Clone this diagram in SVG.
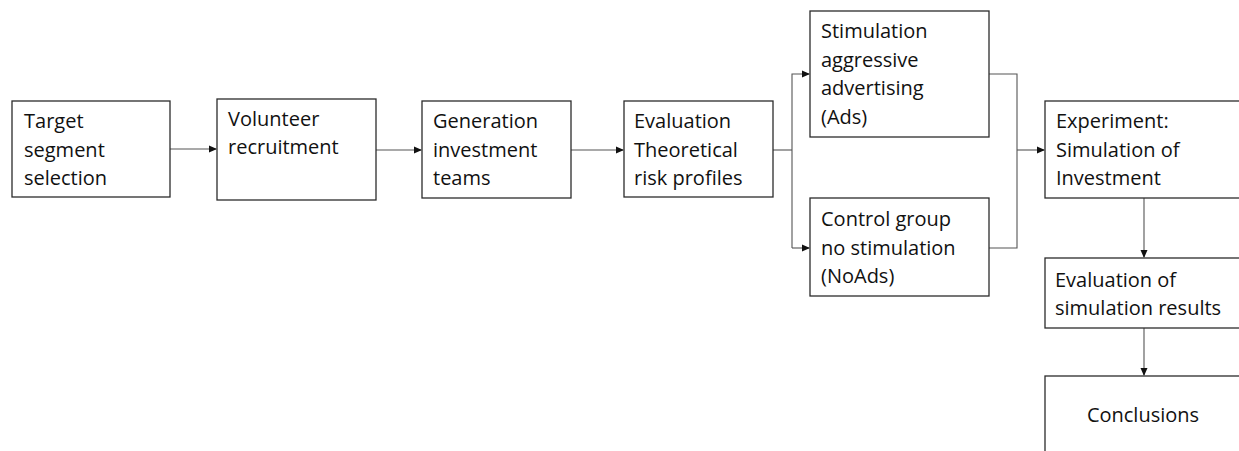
<svg xmlns="http://www.w3.org/2000/svg" width="1239" height="451" viewBox="0 0 1239 451">
<style>
.box{fill:#fff;stroke:#2b2b2b;stroke-width:1.3}
.t{font-family:"Open Sans",Lato,"Liberation Sans",sans-serif;font-size:20px;fill:#111}
.c{fill:none;stroke:#555;stroke-width:1.1}
</style>
<defs>
<marker id="ah" markerWidth="8" markerHeight="8" refX="7" refY="4" orient="auto" markerUnits="userSpaceOnUse">
<path d="M0,0.5 L8,4 L0,7.5 Z" fill="#111"/>
</marker>
</defs>
<rect width="1239" height="451" fill="#fff"/>
<g id="connectors">
<path class="c" d="M170,149 H216" marker-end="url(#ah)"/>
<path class="c" d="M376,150 H421" marker-end="url(#ah)"/>
<path class="c" d="M571,150 H623" marker-end="url(#ah)"/>
<path class="c" d="M773,150 H792"/>
<path class="c" d="M792,248 V74 H809" marker-end="url(#ah)"/>
<path class="c" d="M792,248 H809" marker-end="url(#ah)"/>
<path class="c" d="M989,74 H1017 V248 H989"/>
<path class="c" d="M1017,150 H1044" marker-end="url(#ah)"/>
<path class="c" d="M1144,198 V257" marker-end="url(#ah)"/>
<path class="c" d="M1144,328 V375" marker-end="url(#ah)"/>
</g>
<g id="n1"><rect class="box" x="12" y="101" width="158" height="96"/>
<text class="t" x="24" y="128">Target</text><text class="t" x="24" y="157">segment</text><text class="t" x="24" y="185">selection</text></g>
<g id="n2"><rect class="box" x="217" y="99" width="159" height="101"/>
<text class="t" x="228" y="126">Volunteer</text><text class="t" x="228" y="154">recruitment</text></g>
<g id="n3"><rect class="box" x="422" y="101" width="149" height="97"/>
<text class="t" x="433" y="128">Generation</text><text class="t" x="433" y="157">investment</text><text class="t" x="433" y="185">teams</text></g>
<g id="n4"><rect class="box" x="624" y="101" width="149" height="96"/>
<text class="t" x="634" y="128">Evaluation</text><text class="t" x="634" y="157">Theoretical</text><text class="t" x="634" y="185">risk profiles</text></g>
<g id="n5"><rect class="box" x="810" y="11" width="179" height="126"/>
<text class="t" x="821" y="38">Stimulation</text><text class="t" x="821" y="67">aggressive</text><text class="t" x="821" y="95">advertising</text><text class="t" x="821" y="124">(Ads)</text></g>
<g id="n6"><rect class="box" x="810" y="198" width="179" height="98"/>
<text class="t" x="821" y="226">Control group</text><text class="t" x="821" y="255">no stimulation</text><text class="t" x="821" y="283">(NoAds)</text></g>
<g id="n7"><rect class="box" x="1045" y="101" width="200" height="97"/>
<text class="t" x="1056" y="128">Experiment:</text><text class="t" x="1056" y="157">Simulation of</text><text class="t" x="1056" y="185">Investment</text></g>
<g id="n8"><rect class="box" x="1045" y="258" width="200" height="70"/>
<text class="t" x="1055" y="287">Evaluation of</text><text class="t" x="1055" y="315">simulation results</text></g>
<g id="n9"><rect class="box" x="1045" y="376" width="200" height="90"/>
<text class="t" x="1143" y="422" text-anchor="middle">Conclusions</text></g>
</svg>
